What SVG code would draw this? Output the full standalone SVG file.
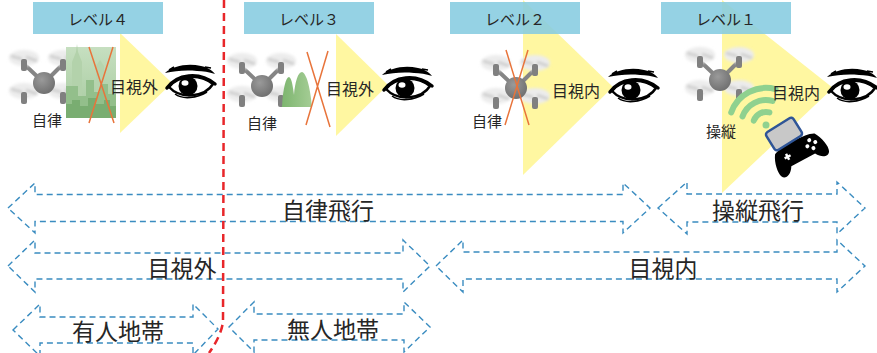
<svg xmlns="http://www.w3.org/2000/svg" xmlns:xlink="http://www.w3.org/1999/xlink" width="877" height="353" viewBox="0 0 877 353">
  <style>
    .lbl-box { fill: #86CCE0; opacity: 0.88; }
    .lbl { font-family: "Noto Sans CJK JP", "Noto Sans", sans-serif; font-size: 15px; fill: #262626; text-anchor: middle; dominant-baseline: central; }
    .tri { fill: #FFF7A1; }
    .small { font-family: "Noto Sans CJK JP", "Noto Sans", sans-serif; font-size: 15px; fill: #262626; text-anchor: middle; dominant-baseline: central; }
    .big { font-family: "Noto Sans CJK JP", "Noto Sans", sans-serif; font-size: 23px; fill: #262626; text-anchor: middle; dominant-baseline: central; }
    .cross { stroke: #E8743B; stroke-width: 1.5; fill: none; }
    .span { fill: none; stroke: #3A8CC0; stroke-width: 1.4; stroke-dasharray: 6 4; }
    .wifi { fill: none; stroke: #8FD18F; stroke-width: 6; stroke-linecap: round; }
  </style>
  <defs>
    <filter id="soft" x="-50%" y="-50%" width="200%" height="200%">
      <feGaussianBlur stdDeviation="1.8"/>
    </filter>
    <radialGradient id="bodyGrad" cx="0.4" cy="0.35" r="0.7">
      <stop offset="0" stop-color="#9a9a9a"/>
      <stop offset="1" stop-color="#6e6e6e"/>
    </radialGradient>
    <linearGradient id="cityBg" x1="0" y1="0" x2="0" y2="1">
      <stop offset="0" stop-color="#C6DFC0"/>
      <stop offset="1" stop-color="#A6CA9E"/>
    </linearGradient>
    <linearGradient id="hill" x1="0" y1="0" x2="1" y2="0">
      <stop offset="0" stop-color="#7DB56F"/>
      <stop offset="1" stop-color="#A5CD95"/>
    </linearGradient>

    <!-- quadcopter, centred on its body -->
    <g id="rotor">
      <ellipse cx="0" cy="-6" rx="15" ry="8" fill="#ececec" filter="url(#soft)"/>
      <path d="M-13,-8 L-2,-5 M2,-7 L13,-3" stroke="#c4c4c4" stroke-width="2.2" filter="url(#soft)"/>
      <rect x="-3" y="-5" width="6" height="12" rx="2" fill="#808080"/>
    </g>
    <g id="drone">
      <path d="M0,0 L-20,-19 M0,0 L19,-19 M0,0 L-20,14 M0,0 L19,14" stroke="#858585" stroke-width="4" stroke-linecap="round"/>
      <use xlink:href="#rotor" x="-20" y="-19"/>
      <use xlink:href="#rotor" x="19" y="-19"/>
      <use xlink:href="#rotor" x="-20" y="14"/>
      <use xlink:href="#rotor" x="19" y="14"/>
      <circle cx="0" cy="0" r="11" fill="url(#bodyGrad)"/>
    </g>

    <!-- eye with brow, origin at top-left of the brow -->
    <g id="eye">
      <path d="M0,9 C8,2 22,-1 36,2 C42,3 47,6 50,10 C44,8 38,7 32,7 C20,6 10,7 0,9 Z" fill="#000"/>
      <path d="M4,6 L9,3 M40,3 L46,4" stroke="#000" stroke-width="1.5"/>
      <path d="M4,23 C14,11 34,9 48,20 C40,33 16,36 4,23 Z" fill="#fff" stroke="#000" stroke-width="2.5"/>
      <path d="M2,24 C12,10 34,7 50,20" fill="none" stroke="#000" stroke-width="3.5" stroke-linecap="round"/>
      <circle cx="23" cy="22" r="9.5" fill="#000"/>
      <ellipse cx="20" cy="19" rx="3.5" ry="2.8" fill="#fff"/>
      <path d="M10,30 C18,36 32,34 42,28" fill="none" stroke="#000" stroke-width="1.5"/>
    </g>
  </defs>

  <rect width="877" height="353" fill="#fff"/>

  <!-- level 4: autonomous, beyond line of sight, over populated area -->
  <g id="level4">
    <polygon class="tri" points="120,33 120,133 172,83"/>
    <rect class="lbl-box" x="33" y="2" width="130" height="32"/>
    <text class="lbl" x="98" y="18">レベル４</text>
    <use xlink:href="#drone" x="44" y="83"/>
    <g id="city">
      <rect x="66" y="47" width="50" height="71" fill="url(#cityBg)"/>
      <path d="M72,118 L72,62 L76,52 L77,44 L78,52 L82,62 L82,118 Z" fill="#B3D2AB"/>
      <path d="M96,118 L96,66 L100,60 L104,66 L104,118 Z" fill="#B6D4AE"/>
      <path d="M66,118 L66,86 L78,86 L78,96 L86,96 L86,80 L94,80 L94,92 L100,92 L100,84 L108,84 L108,94 L116,94 L116,118 Z" fill="#93BF8B"/>
      <path d="M66,118 L66,104 L72,104 L72,100 L80,100 L80,106 L88,106 L88,98 L96,98 L96,104 L104,104 L104,100 L110,100 L110,106 L116,106 L116,118 Z" fill="#79AD71"/>
    </g>
    <path class="cross" d="M89,47 L114,123 M113,47 L89,123"/>
    <text class="small" x="47" y="119">自律</text>
    <text class="small" x="134" y="86" style="font-size:16px">目視外</text>
    <use xlink:href="#eye" x="165" y="64"/>
  </g>

  <!-- level 3: autonomous, beyond line of sight, unpopulated area -->
  <g id="level3">
    <polygon class="tri" points="336,34 336,136 388,85"/>
    <rect class="lbl-box" x="244" y="2" width="130" height="32"/>
    <text class="lbl" x="309" y="18">レベル３</text>
    <use xlink:href="#drone" x="262" y="86"/>
    <path d="M282,107 C283,88 286,77 289,77 C292,78 293,88 294,95 C295,82 298,72 302,72 C308,74 311,95 312,107 Z" fill="url(#hill)"/>
    <path class="cross" d="M307,52 L330,127 M328,51 L306,125"/>
    <text class="small" x="262" y="122">自律</text>
    <text class="small" x="350" y="88" style="font-size:16px">目視外</text>
    <use xlink:href="#eye" x="382" y="66"/>
  </g>

  <!-- level 2: autonomous within line of sight -->
  <g id="level2">
    <polygon class="tri" points="523,0 523,175 613,87"/>
    <rect class="lbl-box" x="450" y="2" width="130" height="32"/>
    <text class="lbl" x="515" y="18">レベル２</text>
    <use xlink:href="#drone" x="516" y="88"/>
    <path class="cross" d="M506,50 L529,125 M528,50 L505,125"/>
    <text class="small" x="487" y="120">自律</text>
    <text class="small" x="576" y="90" style="font-size:16px">目視内</text>
    <use xlink:href="#eye" x="608" y="68"/>
  </g>

  <!-- level 1: piloted within line of sight -->
  <g id="level1">
    <polygon class="tri" points="722,0 722,193 833,88"/>
    <rect class="lbl-box" x="661" y="2" width="130" height="32"/>
    <text class="lbl" x="726" y="18">レベル１</text>
    <use xlink:href="#drone" x="720" y="80"/>
    <g id="signal">
      <path class="wifi" d="M731.2,112.4 A37,37 0 0 1 775.6,89.2"/>
      <path class="wifi" d="M742.5,116.5 A25,25 0 0 1 772.5,100.9"/>
      <path class="wifi" d="M753.8,120.6 A13,13 0 0 1 769.4,112.4"/>
      <circle cx="766" cy="125" r="3.5" fill="#8FD18F"/>
    </g>
    <g id="controller">
      <g transform="translate(799,152) rotate(-28) scale(1.12)">
        <path d="M-20,-8 C-14,-12 14,-12 20,-8 C24,-2 26,8 24,12 C22,16 16,15 12,8 L-12,8 C-16,15 -22,16 -24,12 C-26,8 -24,-2 -20,-8 Z" fill="#000"/>
        <circle cx="13" cy="-5" r="1.8" fill="#fff"/>
        <circle cx="17" cy="-1" r="1.8" fill="#fff"/>
        <circle cx="13" cy="3" r="1.8" fill="#fff"/>
        <circle cx="9" cy="-1" r="1.8" fill="#fff"/>
        <path d="M-14,-1 h6 M-11,-4 v6" stroke="#fff" stroke-width="2.2"/>
      </g>
      <rect x="-16" y="-10.5" width="32" height="21" rx="3" fill="#C8C8C8" stroke="#2F5597" stroke-width="2.5" transform="translate(784,134) rotate(-32)"/>
    </g>
    <text class="small" x="721" y="130">操縦</text>
    <text class="small" x="796" y="92" style="font-size:16px">目視内</text>
    <use xlink:href="#eye" x="827" y="68"/>
  </g>

  <!-- double-headed range arrows -->
  <g id="connectors">
    <g id="span-autonomous">
      <path class="span" d="M8,208 L35,183 L35,194.5 L623,194.5 L623,183 L650,208 L623,233 L623,221.5 L35,221.5 L35,233 Z"/>
      <text class="big" x="328" y="209">自律飛行</text>
    </g>
    <g id="span-piloted">
      <path class="span" d="M658,208 L687,182 L687,194 L837,194 L837,182 L865,208 L837,234 L837,222 L687,222 L687,234 Z"/>
      <text class="big" x="758" y="209">操縦飛行</text>
    </g>
    <g id="span-bvlos">
      <path class="span" d="M8,266 L35,240 L35,253 L403,253 L403,240 L430,266 L403,292 L403,279 L35,279 L35,292 Z"/>
      <text class="big" x="182" y="267">目視外</text>
    </g>
    <g id="span-vlos">
      <path class="span" d="M436,266 L463,240 L463,252 L837,252 L837,240 L865,266 L837,292 L837,279 L463,279 L463,292 Z"/>
      <text class="big" x="663" y="267">目視内</text>
    </g>
    <g id="span-populated">
      <path class="span" d="M13,330 L40,304 L40,317 L193,317 L193,304 L218,329 L193,355 L193,343 L40,343 L40,356 Z"/>
      <text class="big" x="118" y="330">有人地帯</text>
    </g>
    <g id="span-unpopulated">
      <path class="span" d="M229,327 L254,302 L254,314 L404,314 L404,302 L430,327 L404,352 L404,340 L254,340 L254,352 Z"/>
      <text class="big" x="333" y="328">無人地帯</text>
    </g>
  </g>

  <!-- boundary between level 4 and the rest -->
  <path id="boundary" d="M224,0 L223,322 Q221,336 209,353" fill="none" stroke="#E8262A" stroke-width="2.5" stroke-dasharray="8 5"/>
</svg>
